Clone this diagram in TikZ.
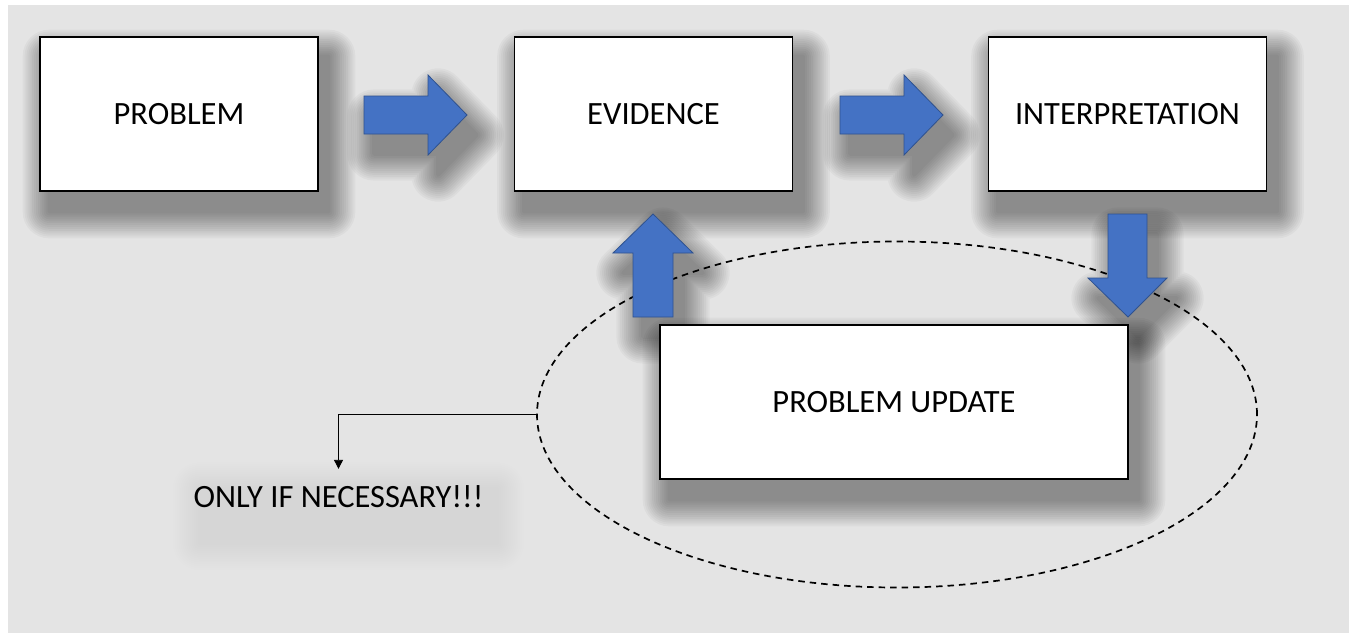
\documentclass[tikz,border=0pt]{standalone}
\usepackage{fontspec}
\setmainfont{Carlito}
\usetikzlibrary{shapes.geometric,arrows.meta}
\definecolor{bggray}{HTML}{E4E4E4}
\definecolor{arrowblue}{HTML}{4472C4}
\definecolor{arrowedge}{HTML}{2F528F}
\pgfdeclarelayer{back}
\pgfdeclarelayer{shade}
\pgfsetlayers{back,shade,main}
% soft drop shadow: stacked translucent outlines of growing width,
% offset down and to the right
\newcommand\dropshadow[2][0.03]{%
  \foreach \k in {1,...,14}{%
    \begin{scope}[transparency group,opacity=#1,shift={(10,20)}]
      \path[fill=black,draw=black,line join=round,line width=\k*3.8pt,#2];
    \end{scope}}}
\begin{document}
\begin{tikzpicture}[x=1pt,y=-1pt,
  labelfont/.style={font=\fontsize{32.5}{39}\selectfont},
  stage/.style={draw=black,line width=1.5pt,fill=white,minimum width=278pt,minimum height=154pt,inner sep=0pt,labelfont},
  blockarrow/.style={fill=arrowblue,draw=arrowedge,line width=0.8pt,line join=miter},
  scopering/.style={ellipse,draw=black,dash pattern=on 6.5pt off 5pt,line width=1.7pt,minimum width=720pt,minimum height=346pt,inner sep=0pt},
  pointer/.style={draw=black,line width=0.8pt,-{Triangle[length=9pt,width=9pt]}},
  arrowA/.style={insert path={(364,96) -- (428,96) -- (428,75) -- (467,115) -- (428,155) -- (428,134) -- (364,134) -- cycle}},
  arrowB/.style={insert path={(840,96) -- (904,96) -- (904,75) -- (943,115) -- (904,155) -- (904,134) -- (840,134) -- cycle}},
  arrowUp/.style={insert path={(633,317) -- (633,253) -- (613,253) -- (653,214) -- (693,253) -- (673,253) -- (673,317) -- cycle}},
  arrowDown/.style={insert path={(1108,214) -- (1147,214) -- (1147,278) -- (1167,278) -- (1128,317) -- (1088,278) -- (1108,278) -- cycle}},
  % node anchors ignore the scope shift, so the offset is given here
  boxpath/.style={insert path={([xshift=10pt,yshift=-20pt]#1.south west) rectangle ([xshift=10pt,yshift=-20pt]#1.north east)}},
]
\useasboundingbox (0,0) rectangle (1349,633);
\begin{pgfonlayer}{back}
  \fill[bggray] (8,5) rectangle (1349,633);
\end{pgfonlayer}

% dashed region around the update step
\node[scopering] (ring) at (897,414.5) {};

% main stages
\node[stage] (problem) at (179,114) {PROBLEM};
\node[stage] (evidence) at (653.5,114) {EVIDENCE};
\node[stage] (interp) at (1127.5,114) {INTERPRETATION};
\node[stage,minimum width=468pt] (update) at (894,402) {PROBLEM UPDATE};

% block arrows between the stages
\path[blockarrow,arrowA];
\path[blockarrow,arrowB];
\path[blockarrow,arrowUp];
\path[blockarrow,arrowDown];

% side note
\node[labelfont,anchor=base,inner xsep=4pt,inner ysep=16pt] (note) at (338.5,507) {ONLY IF NECESSARY!!!};
\draw[pointer] (ring.west) -| (note.north);

% shadows
\begin{pgfonlayer}{shade}
  \dropshadow{boxpath=problem}
  \dropshadow{boxpath=evidence}
  \dropshadow{boxpath=interp}
  \dropshadow{boxpath=update}
  \dropshadow{arrowA}
  \dropshadow{arrowB}
  \dropshadow{arrowUp}
  \dropshadow{arrowDown}
  \dropshadow[0.004]{boxpath=note}
\end{pgfonlayer}
\end{tikzpicture}
\end{document}
